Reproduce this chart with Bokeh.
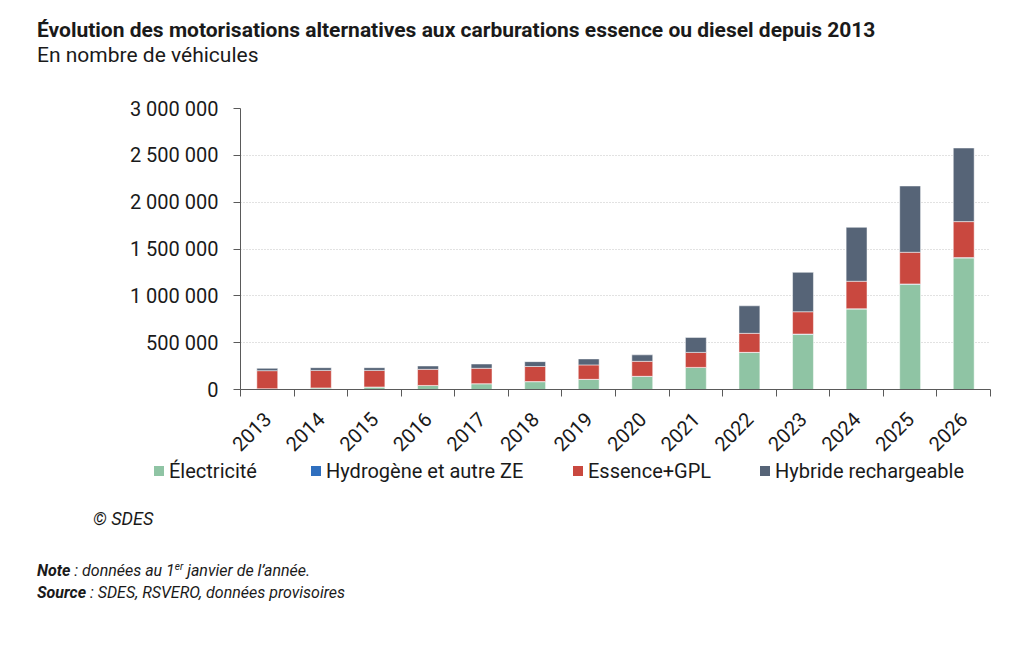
import math
from bokeh.plotting import figure
from bokeh.layouts import column
from bokeh.models import ColumnDataSource, Range1d, FixedTicker, CustomJSTickFormatter, Div
from bokeh.embed import file_html
from bokeh.resources import INLINE

years = ["2013", "2014", "2015", "2016", "2017", "2018", "2019",
         "2020", "2021", "2022", "2023", "2024", "2025", "2026"]
electricite = [8000, 17000, 27000, 43000, 62000, 84000, 108000,
               140000, 235000, 395000, 590000, 860000, 1124000, 1405000]
hydrogene = [50, 80, 150, 250, 400, 550, 700, 900, 1200, 1600, 2100, 2600, 3000, 3300]
essence_gpl = [193000, 187000, 177000, 172000, 164000, 161000, 154000,
               160000, 160000, 203000, 238000, 293000, 338000, 384000]
hybride = [25000, 29000, 29000, 36000, 46000, 52000, 64000,
           69000, 160000, 294000, 421000, 576000, 708000, 786000]

names = ["Électricité", "Hydrogène et autre ZE", "Essence+GPL", "Hybride rechargeable"]
keys = ["elec", "hydro", "ess", "hyb"]
colors = ["#8fc4a4", "#2f6fbf", "#c9483f", "#566477"]
y_ticks = [0, 500000, 1000000, 1500000, 2000000, 2500000, 3000000]

title = "Évolution des motorisations alternatives aux carburations essence ou diesel depuis 2013"
subtitle = "En nombre de véhicules"

FONT = "Roboto"
AXIS = "#5a5a5a"
TXT = "#1a1a1a"
W = 1024
HEAD_H, CHART_H = 88, 376
FOOT_H = 649 - HEAD_H - CHART_H
FOOT_Y = HEAD_H + CHART_H   # page y where the foot block starts


def box(left, top, html, size, extra=""):
    return (f'<div style="position:absolute;left:{left}px;top:{top}px;white-space:nowrap;'
            f'font-size:{size}px;line-height:20px;{extra}">{html}</div>')


def panel(height, parts):
    html = (f'<div style="position:relative;width:{W}px;height:{height}px;'
            f'font-family:{FONT};color:{TXT};margin:0;padding:0">' + "".join(parts) + "</div>")
    return Div(text=html, width=W, height=height, margin=0)


# --- title block
head = panel(HEAD_H, [
    box(37, 20, title, 21, "font-weight:bold;"),
    box(37, 45, subtitle, 21),
])

# --- chart
src = ColumnDataSource(dict(x=[i + 0.5 for i in range(len(years))],
                            elec=electricite, hydro=hydrogene,
                            ess=essence_gpl, hyb=hybride))

p = figure(width=W, height=CHART_H, output_backend="svg", toolbar_location=None,
           x_range=Range1d(0, len(years)), y_range=Range1d(0, 3000000),
           min_border_left=240, min_border_right=34, min_border_top=20,
           min_border_bottom=CHART_H - 20 - 281)
p.outline_line_color = None

p.vbar_stack(keys, x="x", width=0.39, color=colors, source=src,
             line_color="white", line_width=0.5)

p.xgrid.visible = False
p.ygrid.ticker = FixedTicker(ticks=y_ticks)
p.ygrid.grid_line_color = "#c4c4c4"
p.ygrid.grid_line_dash = "1 2"

p.yaxis.ticker = FixedTicker(ticks=y_ticks)
p.yaxis.formatter = CustomJSTickFormatter(
    code="return tick.toFixed(0).replace(/\\B(?=(\\d{3})+(?!\\d))/g, ' ');")
p.yaxis.axis_line_color = AXIS
p.yaxis.major_tick_line_color = AXIS
p.yaxis.major_tick_out = 7
p.yaxis.major_tick_in = 0
p.yaxis.minor_tick_line_color = None
p.yaxis.major_label_text_font = FONT
p.yaxis.major_label_text_font_size = "20px"
p.yaxis.major_label_text_color = TXT
p.yaxis.major_label_standoff = 15

# labels under the bars, tick marks between categories
p.xaxis.ticker = FixedTicker(ticks=[i + 0.5 for i in range(len(years))],
                             minor_ticks=list(range(len(years) + 1)))
p.xaxis.formatter = CustomJSTickFormatter(args=dict(labels=years),
                                          code="return labels[Math.floor(tick)] || '';")
p.xaxis.axis_line_color = AXIS
p.xaxis.major_tick_line_color = None
p.xaxis.minor_tick_line_color = AXIS
p.xaxis.minor_tick_out = 7
p.xaxis.minor_tick_in = 0
p.xaxis.major_label_orientation = math.pi / 4
p.xaxis.major_label_text_font = FONT
p.xaxis.major_label_text_font_size = "20px"
p.xaxis.major_label_text_color = TXT
p.xaxis.major_label_standoff = 19

# --- legend + notes (tops given relative to the foot block)
legend_x = [154, 311, 573, 760]
parts = []
for lx, n, c in zip(legend_x, names, colors):
    parts.append(f'<div style="position:absolute;left:{lx}px;top:{466 - FOOT_Y}px;width:10px;'
                 f'height:10px;background:{c}"></div>')
    parts.append(box(lx + 15, 461 - FOOT_Y, n, 20))
parts.append(box(93, 509 - FOOT_Y, "© SDES", 18, "font-style:italic;"))
parts.append(box(37, 557 - FOOT_Y, "<b>Note</b> : données au 1<sup style=\"font-size:10px\">er</sup> "
                                   "janvier de l’année.", 16, "font-style:italic;"))
parts.append(box(37, 583 - FOOT_Y, "<b>Source</b> : SDES, RSVERO, données provisoires", 16,
                 "font-style:italic;"))
foot = panel(FOOT_H, parts)

layout = column(head, p, foot, spacing=0)
open("out.html", "w").write(file_html(layout, INLINE))
